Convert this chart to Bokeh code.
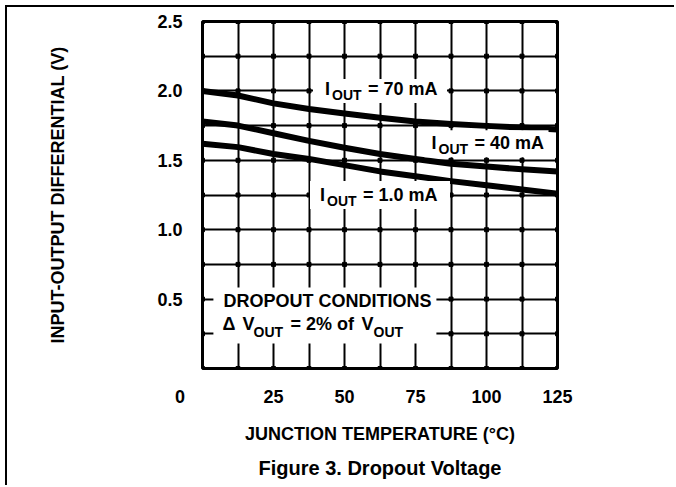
from bokeh.plotting import figure
from bokeh.models import Range1d, FixedTicker, Title
from bokeh.core.properties import value
from bokeh.embed import file_html
from bokeh.resources import INLINE

# ---- data ----
temps = [0, 12.5, 25, 37.5, 50, 62.5, 75, 87.5, 100, 112.5, 125]
v_70mA = [2.00, 1.967, 1.91, 1.87, 1.837, 1.807, 1.78, 1.762, 1.748, 1.736, 1.722]
v_40mA = [1.78, 1.75, 1.695, 1.64, 1.59, 1.545, 1.51, 1.475, 1.455, 1.435, 1.42]
v_1mA = [1.62, 1.595, 1.545, 1.51, 1.465, 1.42, 1.385, 1.35, 1.32, 1.29, 1.26]

x_ticks = [0, 25, 50, 75, 100, 125]
x_tick_labels = ["0", "25", "50", "75", "100", "125"]
y_ticks = [0.5, 1.0, 1.5, 2.0, 2.5]
y_tick_labels = ["0.5", "1.0", "1.5", "2.0", "2.5"]
x_grid = [0, 12.5, 25, 37.5, 50, 62.5, 75, 87.5, 100, 112.5, 125]
y_grid = [0, 0.25, 0.5, 0.75, 1.0, 1.25, 1.5, 1.75, 2.0, 2.25, 2.5]

curve_labels = ["= 70 mA", "= 40 mA", "= 1.0 mA"]

FONT = "Liberation Sans"
W, H = 669, 480
NBSP = "\u00a0"

p = figure(width=W, height=H, x_range=Range1d(0, 125), y_range=Range1d(0, 2.5),
           output_backend="svg", toolbar_location=None,
           min_border_left=195, min_border_right=119, min_border_top=14, min_border_bottom=119)
p.margin = (5, 0, 0, 5)
p.styles = {"border-top": "2px solid black", "border-left": "2px solid black"}
p.background_fill_color = "white"
p.border_fill_color = "white"
p.outline_line_color = "black"
p.outline_line_width = 3

for g, t in ((p.xgrid, x_grid), (p.ygrid, y_grid)):
    g.ticker = FixedTicker(ticks=t)
    g.grid_line_color = "black"
    g.grid_line_width = 2

# the origin "0" sits at the corner, left of the frame (padded to shift it left)
x_overrides = dict(zip(x_ticks, x_tick_labels))
x_overrides[0] = x_tick_labels[0] + NBSP * 9
p.xaxis.ticker = FixedTicker(ticks=x_ticks)
p.xaxis.major_label_overrides = x_overrides
p.yaxis.ticker = FixedTicker(ticks=y_ticks)
p.yaxis.major_label_overrides = dict(zip(y_ticks, y_tick_labels))
for ax in (p.xaxis, p.yaxis):
    ax.axis_line_color = None
    ax.major_tick_line_color = None
    ax.minor_tick_line_color = None
    ax.major_tick_in = 0
    ax.major_tick_out = 0
    ax.major_label_text_font = FONT
    ax.major_label_text_font_style = "bold"
    ax.major_label_text_font_size = "18px"
    ax.major_label_text_color = "black"
    ax.axis_label_text_font = FONT
    ax.axis_label_text_font_style = "bold"
    ax.axis_label_text_font_size = "18px"
    ax.axis_label_text_color = "black"
p.xaxis.major_label_standoff = 18
p.yaxis.major_label_standoff = 20
p.xaxis.axis_label = "JUNCTION TEMPERATURE (°C)"
p.yaxis.axis_label = "INPUT-OUTPUT DIFFERENTIAL (V)"
p.xaxis.axis_label_standoff = 14
p.yaxis.axis_label_standoff = 86

p.add_layout(Title(text="Figure 3. Dropout Voltage", align="center", text_font=FONT,
                   text_font_style="bold", text_font_size="20px", text_color="black",
                   standoff=17), "below")

# grid intersection dots
gx = [x for x in x_grid for _ in y_grid]
gy = [y for _ in x_grid for y in y_grid]
p.scatter(gx, gy, marker="square", size=4, color="black")

for v in (v_70mA, v_40mA, v_1mA):
    p.line(temps, v, line_width=6, line_color="black", line_join="round")

def box(x, y, w, h):
    p.rect(x=[x], y=[y], width=w, height=h, width_units="screen", height_units="screen",
           fill_color="white", line_color=None)

def txt(x, y, s, dx, dy, size=18):
    p.text(x=[x], y=[y], text=[s], x_offset=dx, y_offset=dy, text_font=value(FONT),
           text_font_style="bold", text_font_size=f"{size}px", text_baseline="middle",
           text_align="left", text_color="black")

def iout_label(x, y, rest, start, dy=-2):
    txt(x, y, "I", start, dy)
    txt(x, y, "OUT", start + 7, dy + 6, 14)
    txt(x, y, rest, start + 43, dy)

box(62.5, 2.0, 134, 24)
iout_label(62.5, 2.0, curve_labels[0], -55)
box(100, 1.62, 124, 27)
iout_label(100, 1.62, curve_labels[1], -55, -1)
box(62.5, 1.25, 140, 28)
iout_label(62.5, 1.25, curve_labels[2], -60, 0)

box(43.1, 0.382, 223, 56)
txt(0, 0.5, "DROPOUT CONDITIONS", 21, 2)
txt(0, 0.25, "Δ", 20, -10)
txt(0, 0.25, "V", 40, -10)
txt(0, 0.25, "OUT", 51, -2, 14)
txt(0, 0.25, "= 2% of", 88, -10)
txt(0, 0.25, "V", 159, -10)
txt(0, 0.25, "OUT", 171, -2, 14)

open("out.html", "w").write(file_html(p, INLINE))
